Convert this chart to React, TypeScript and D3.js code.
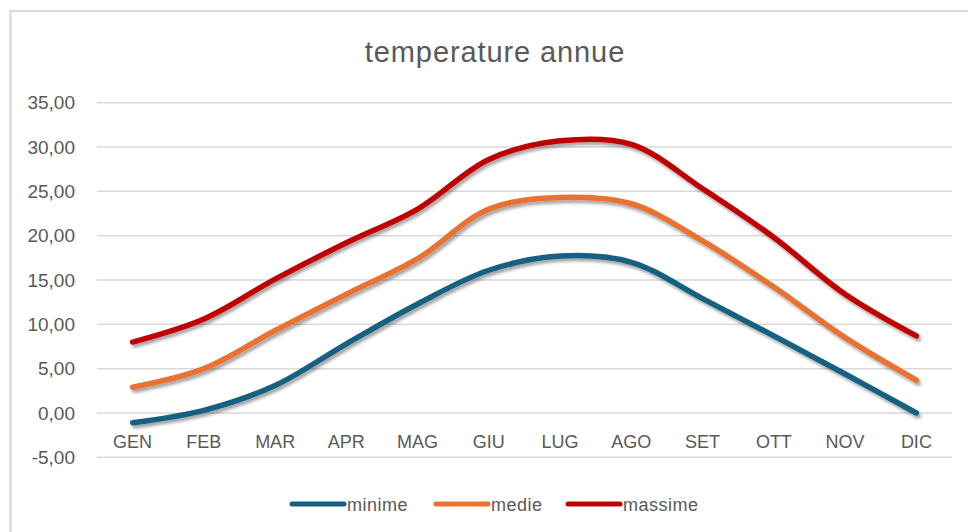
import React, { useRef, useEffect } from 'react';
import * as d3 from 'd3';

const months = ['GEN', 'FEB', 'MAR', 'APR', 'MAG', 'GIU', 'LUG', 'AGO', 'SET', 'OTT', 'NOV', 'DIC'];
const minime = [-1.1, 0.3, 3.1, 7.8, 12.3, 16.1, 17.7, 17.0, 12.9, 8.7, 4.4, 0.0];
const medie = [2.9, 5.0, 9.3, 13.4, 17.4, 23.0, 24.3, 23.6, 19.4, 14.2, 8.5, 3.7];
const massime = [8.0, 10.6, 15.1, 19.2, 23.0, 28.6, 30.7, 30.3, 25.3, 19.8, 13.4, 8.7];
const yTicks = [-5, 0, 5, 10, 15, 20, 25, 30, 35];

const seriesNames = ['minime', 'medie', 'massime'];
const seriesValues = [minime, medie, massime];
const seriesColors = ['#156082', '#E97132', '#C00000'];

const width = 968;
const height = 532;
const textColor = '#595959';

const App: React.FC = () => {
  const ref = useRef<SVGSVGElement | null>(null);

  useEffect(() => {
    if (!ref.current) return;
    const svg = d3.select<SVGSVGElement, unknown>(ref.current);
    svg.selectAll('*').remove();

    // drop shadow like Excel's line effect
    const filter = svg
      .append('defs')
      .append('filter')
      .attr('id', 'shadow')
      .attr('x', '-10%')
      .attr('y', '-10%')
      .attr('width', '120%')
      .attr('height', '130%');
    filter
      .append('feDropShadow')
      .attr('dx', 2)
      .attr('dy', 3)
      .attr('stdDeviation', 1.6)
      .attr('flood-color', '#000')
      .attr('flood-opacity', 0.35);

    svg.append('rect').attr('width', width).attr('height', height).attr('fill', '#fff');

    // chart area border
    svg
      .append('rect')
      .attr('x', 10.5)
      .attr('y', 11)
      .attr('width', 1000)
      .attr('height', 600)
      .attr('fill', 'none')
      .attr('stroke', '#d9d9d9')
      .attr('stroke-width', 2.2);

    svg
      .append('text')
      .attr('x', 495)
      .attr('y', 62)
      .attr('text-anchor', 'middle')
      .style('font-family', '"Liberation Sans", Arial, sans-serif')
      .style('font-size', '29px')
      .style('letter-spacing', '0.9px')
      .style('fill', textColor)
      .text('temperature annue');

    const x = d3.scalePoint<string>().domain(months).range([97, 952]).padding(0.5);
    const y = d3.scaleLinear().domain([-5, 35]).range([457.3, 102.7]);

    // gridlines
    svg
      .append('g')
      .selectAll('line')
      .data(yTicks)
      .enter()
      .append('line')
      .attr('x1', 97)
      .attr('x2', 952)
      .attr('y1', d => y(d))
      .attr('y2', d => y(d))
      .attr('stroke', '#d9d9d9')
      .attr('stroke-width', 1.5);

    const fmt = (v: number) => v.toFixed(2).replace('.', ',');

    svg
      .append('g')
      .selectAll('text')
      .data(yTicks)
      .enter()
      .append('text')
      .attr('x', 75)
      .attr('y', d => y(d))
      .attr('dy', '0.35em')
      .attr('text-anchor', 'end')
      .style('font-family', '"Liberation Sans", Arial, sans-serif')
      .style('font-size', '19px')
      .style('fill', textColor)
      .text(d => fmt(d));

    svg
      .append('g')
      .selectAll('text')
      .data(months)
      .enter()
      .append('text')
      .attr('x', d => x(d)!)
      .attr('y', 448)
      .attr('text-anchor', 'middle')
      .style('font-family', '"Liberation Sans", Arial, sans-serif')
      .style('font-size', '18px')
      .style('fill', textColor)
      .text(d => d);

    const line = d3
      .line<number>()
      .x((_, i) => x(months[i])!)
      .y(d => y(d))
      .curve(d3.curveCatmullRom.alpha(0.5));

    seriesValues.forEach((vals, i) => {
      svg
        .append('path')
        .attr('d', line(vals)!)
        .attr('fill', 'none')
        .attr('stroke', seriesColors[i])
        .attr('stroke-width', 5.5)
        .attr('stroke-linecap', 'round')
        .attr('stroke-linejoin', 'round')
        .attr('filter', 'url(#shadow)');
    });

    // legend
    const legendX = [292, 436, 568];
    seriesNames.forEach((name, i) => {
      svg
        .append('line')
        .attr('x1', legendX[i])
        .attr('x2', legendX[i] + 52)
        .attr('y1', 504)
        .attr('y2', 504)
        .attr('stroke', seriesColors[i])
        .attr('stroke-width', 5)
        .attr('stroke-linecap', 'round');
      svg
        .append('text')
        .attr('x', legendX[i] + 55)
        .attr('y', 511)
        .style('font-family', '"Liberation Sans", Arial, sans-serif')
        .style('font-size', '18px')
        .style('letter-spacing', '0.5px')
        .style('fill', textColor)
        .text(name);
    });
  }, []);

  return (
    <svg
      ref={ref}
      width={width}
      height={height}
      style={{ position: 'absolute', left: 0, top: 0, display: 'block' }}
    />
  );
};

export default App;
